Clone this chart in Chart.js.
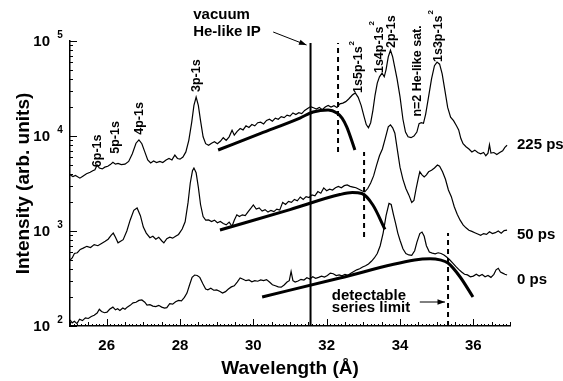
<!DOCTYPE html>
<html>
<head>
<meta charset="utf-8">
<script src="https://cdn.jsdelivr.net/npm/chart.js@4/dist/chart.umd.min.js"></script>
<style>
  html, body { margin: 0; background: #fff; }
</style>
</head>
<body>
<canvas id="spectra" width="563" height="381"></canvas>
<script>
// Spectra at three delays: wavelength (Å) and intensity (arb. units)
const wl225 = [25.00,25.08,25.15,25.27,25.36,25.45,25.55,25.62,25.68,25.74,25.80,25.88,25.95,26.03,26.10,26.17,26.24,26.31,26.40,26.50,26.60,26.70,26.80,26.88,26.96,27.04,27.12,27.20,27.28,27.36,27.45,27.53,27.62,27.70,27.78,27.86,27.93,28.00,28.08,28.16,28.24,28.32,28.38,28.44,28.50,28.56,28.63,28.70,28.78,28.86,28.94,29.02,29.10,29.18,29.26,29.34,29.42,29.48,29.56,29.64,29.72,29.80,29.88,29.96,30.04,30.12,30.20,30.28,30.36,30.44,30.52,30.60,30.68,30.76,30.84,30.92,31.00,31.08,31.16,31.24,31.32,31.40,31.48,31.56,31.64,31.72,31.80,31.88,31.96,32.04,32.12,32.20,32.28,32.36,32.44,32.52,32.60,32.70,32.78,32.86,32.94,33.02,33.08,33.14,33.20,33.26,33.32,33.38,33.44,33.51,33.57,33.62,33.68,33.74,33.80,33.86,33.92,34.00,34.08,34.15,34.22,34.30,34.38,34.46,34.52,34.58,34.64,34.70,34.78,34.86,34.94,35.01,35.08,35.15,35.22,35.30,35.38,35.46,35.54,35.60,35.66,35.72,35.80,35.88,35.96,36.04,36.12,36.20,36.28,36.34,36.40,36.44,36.48,36.56,36.64,36.72,36.80,36.86,36.92];
const int225 = [3900,3750,3850,3600,3800,4000,4150,4300,4400,4950,4600,4500,4700,4800,5000,5300,5050,5150,5000,5050,5400,6500,8400,9100,8300,6800,5600,5200,5450,5250,5400,5250,5600,5800,5600,6300,5800,5700,6000,6800,9000,14000,21000,25700,21000,14500,9800,8300,8000,8400,8700,8300,8800,9600,9000,9800,11500,10200,11200,12000,11600,12800,12300,13200,12800,13800,14000,13400,14600,15000,14300,15400,15000,16000,15600,16600,16200,17500,16800,17600,17200,18600,19500,20400,19800,19200,20000,18900,20200,21000,20200,20800,20000,21800,22200,23000,24500,27000,28400,25500,21000,16000,13200,12200,13800,18500,27000,36000,42000,46000,42000,50000,68000,80000,68000,52000,40000,26000,15000,11000,9800,9600,10000,11000,13500,13800,13600,17000,26000,40000,55000,60000,57000,45000,31000,20000,15800,14500,12800,11600,9400,8300,7700,7300,6800,7100,6700,6500,6700,6200,6600,8100,6600,6700,6400,6700,7000,7600,8000];

const wl50 = [25.00,25.06,25.12,25.20,25.28,25.36,25.46,25.56,25.66,25.76,25.86,25.96,26.04,26.12,26.18,26.24,26.31,26.38,26.45,26.55,26.64,26.74,26.83,26.92,27.00,27.08,27.18,27.26,27.34,27.42,27.50,27.56,27.64,27.72,27.80,27.88,27.96,28.06,28.14,28.22,28.28,28.34,28.38,28.44,28.50,28.56,28.63,28.70,28.78,28.86,28.94,29.02,29.10,29.18,29.26,29.34,29.42,29.48,29.55,29.62,29.70,29.78,29.86,29.94,30.00,30.08,30.16,30.24,30.32,30.40,30.48,30.56,30.64,30.72,30.80,30.88,30.96,31.04,31.12,31.20,31.28,31.36,31.44,31.52,31.60,31.68,31.76,31.84,31.92,32.00,32.08,32.16,32.24,32.32,32.40,32.48,32.56,32.64,32.72,32.80,32.88,32.96,33.04,33.12,33.20,33.28,33.36,33.44,33.52,33.60,33.68,33.74,33.80,33.86,33.92,34.00,34.08,34.16,34.24,34.32,34.38,34.44,34.50,34.54,34.60,34.66,34.72,34.78,34.86,34.94,35.02,35.08,35.16,35.24,35.32,35.40,35.48,35.56,35.64,35.72,35.80,35.88,35.96,36.04,36.12,36.20,36.28,36.36,36.44,36.52,36.60,36.68,36.76,36.84,36.92];
const int50 = [495,520,580,590,640,660,690,670,720,700,740,780,820,900,950,860,750,780,810,1000,1300,1650,1750,1450,1100,950,850,880,820,860,790,750,830,860,840,880,920,1050,1250,2000,3200,4300,4600,4100,2900,1900,1420,1300,1310,1260,1300,1220,1260,1200,1160,1240,1120,1300,1480,1420,1480,1450,1600,1750,1880,1700,1750,1620,1680,1580,1650,1600,1700,1660,2000,1900,2050,2000,2150,2080,2280,2150,2300,2250,2400,2350,2600,2500,2840,2650,2750,2700,2850,2950,2850,3000,3050,2950,2900,2850,2750,2650,2580,2800,3200,3800,4900,6200,7300,9500,12500,13100,12200,10700,7500,4700,3500,2800,2400,2000,2100,2800,3600,4200,3900,3700,3900,4200,4350,4600,4950,4800,4200,3500,2700,2300,1800,1500,1300,1160,1080,1020,990,960,930,900,940,920,980,940,960,1000,950,1010,1020];

const wl0 = [25.00,25.06,25.12,25.19,25.26,25.34,25.42,25.50,25.58,25.66,25.74,25.80,25.86,25.94,26.01,26.08,26.17,26.24,26.30,26.36,26.44,26.50,26.56,26.64,26.72,26.80,26.88,26.96,27.04,27.10,27.18,27.26,27.34,27.42,27.50,27.58,27.64,27.72,27.80,27.88,27.96,28.04,28.12,28.19,28.26,28.33,28.40,28.47,28.54,28.62,28.70,28.76,28.84,28.92,29.00,29.08,29.16,29.24,29.32,29.40,29.48,29.56,29.64,29.72,29.80,29.88,29.96,30.04,30.12,30.20,30.28,30.36,30.44,30.52,30.60,30.68,30.76,30.84,30.92,30.98,31.03,31.08,31.14,31.22,31.30,31.38,31.46,31.54,31.62,31.70,31.78,31.86,31.94,32.02,32.10,32.18,32.26,32.34,32.42,32.50,32.58,32.66,32.74,32.82,32.90,32.98,33.06,33.14,33.22,33.30,33.38,33.46,33.54,33.62,33.70,33.76,33.82,33.88,33.94,34.00,34.08,34.16,34.24,34.32,34.40,34.46,34.54,34.60,34.66,34.72,34.80,34.88,34.96,35.04,35.12,35.20,35.28,35.36,35.44,35.52,35.60,35.68,35.76,35.84,35.92,36.00,36.08,36.16,36.24,36.32,36.40,36.48,36.56,36.62,36.68,36.74,36.80,36.86,36.92];
const int0 = [116,108,112,106,118,114,122,120,126,130,137,150,142,138,140,150,158,148,152,146,155,150,158,165,175,178,186,188,178,166,168,162,160,165,158,154,156,172,170,180,186,184,200,222,270,325,344,340,325,280,245,240,250,238,240,232,222,230,245,258,265,290,320,310,300,305,292,300,296,305,300,308,290,272,265,258,256,270,290,300,375,300,290,298,310,305,322,312,330,318,325,335,328,340,360,355,340,345,338,350,342,360,375,390,400,418,430,450,480,520,580,700,950,1450,1950,1900,1500,1200,950,800,650,580,560,555,620,760,940,975,880,700,600,585,575,590,580,560,530,495,460,425,395,370,350,345,330,335,350,335,348,330,340,325,350,390,405,370,360,350,344];

// Rydberg-series fits, drawn thick
const fitWl225 = [29.04, 30.20, 31.27, 31.63, 32.04, 32.28, 32.42, 32.55, 32.77];
const fitInt225 = [7125, 10660, 15460, 17900, 18800, 17460, 15460, 12400, 7125];
const fitWl50 = [29.09, 31.00, 32.36, 32.70, 32.96, 33.26, 33.59];
const fitInt50 = [1023, 1680, 2420, 2540, 2480, 1878, 1040];
const fitWl0 = [30.24, 32.36, 34.40, 34.82, 35.09, 35.31, 35.64, 35.99];
const fitInt0 = [202, 320, 495, 510, 497, 460, 328, 202];

// vacuum He-like ionisation potential and detectable series limits
const ipWl = 31.56;
const ipRange = [100, 95000];
const limitWl = [32.31, 33.02, 35.31];
const limitLow = [6800, 865, 100];
const limitHigh = [95000, 6800, 950];

// axes
const xTicks = [26, 28, 30, 32, 34, 36];
const yTickExps = [2, 3, 4, 5];

// line identifications
const peakNames = ['6p-1s', '5p-1s', '4p-1s', '3p-1s', '1s5p-1s', '1s4p-1s', '2p-1s', 'n=2 He-like sat.', '1s3p-1s'];
const peakSup = ['', '', '', '', '2', '2', '', '', '2'];
const peakWl = [25.74, 26.23, 26.91, 28.46, 32.87, 33.43, 33.78, 34.49, 35.04];
const peakBase = [4700, 6500, 10300, 29000, 28400, 46000, 84300, 16000, 60100];

const delayNames = ['225 ps', '50 ps', '0 ps'];
const delayLevel = [8040, 907, 305];

const FONT = '"Liberation Sans", Arial, Helvetica, sans-serif';
Chart.defaults.font.family = FONT;
Chart.defaults.color = '#000';

const pts = (xs, ys) => xs.map((x, i) => ({ x: x, y: ys[i] }));

const spectrum = (xs, ys) => ({
  data: pts(xs, ys), borderColor: '#000', borderWidth: 1.2, pointRadius: 0, tension: 0
});
const fit = (xs, ys) => ({
  data: pts(xs, ys), borderColor: '#000', borderWidth: 3, pointRadius: 0,
  cubicInterpolationMode: 'monotone'
});

const datasets = [
  spectrum(wl225, int225),
  spectrum(wl50, int50),
  spectrum(wl0, int0),
  fit(fitWl225, fitInt225),
  fit(fitWl50, fitInt50),
  fit(fitWl0, fitInt0),
  { data: pts([ipWl, ipWl], ipRange), borderColor: '#000', borderWidth: 2, pointRadius: 0 }
];
limitWl.forEach((w, i) => {
  datasets.push({
    data: pts([w, w], [limitLow[i], limitHigh[i]]),
    borderColor: '#000', borderWidth: 2, borderDash: [5, 4], pointRadius: 0
  });
});

function arrow(ctx, x1, y1, x2, y2) {
  const a = Math.atan2(y2 - y1, x2 - x1);
  ctx.beginPath();
  ctx.moveTo(x1, y1);
  ctx.lineTo(x2, y2);
  ctx.stroke();
  ctx.beginPath();
  ctx.moveTo(x2, y2);
  ctx.lineTo(x2 - 8 * Math.cos(a - 0.35), y2 - 8 * Math.sin(a - 0.35));
  ctx.lineTo(x2 - 8 * Math.cos(a + 0.35), y2 - 8 * Math.sin(a + 0.35));
  ctx.closePath();
  ctx.fill();
}

// inward ticks and the 10^n labels
const axisTicks = {
  id: 'axisTicks',
  afterDraw(chart) {
    const { ctx, chartArea: a, scales: { x, y } } = chart;
    ctx.save();
    ctx.strokeStyle = '#000';
    ctx.lineWidth = 1;
    ctx.beginPath();
    for (let i = 0; i <= 120; i++) {
      const px = Math.round(x.getPixelForValue(25 + i / 10)) + 0.5;
      const len = i % 20 === 10 ? 7 : (i % 5 === 0 ? 4 : 2);
      ctx.moveTo(px, a.bottom);
      ctx.lineTo(px, a.bottom - len);
    }
    for (let e = 2; e <= 4; e++) {
      for (let m = 1; m <= 9; m++) {
        const py = Math.round(y.getPixelForValue(m * Math.pow(10, e))) + 0.5;
        ctx.moveTo(a.left, py);
        ctx.lineTo(a.left + (m === 1 ? 7 : 3), py);
      }
    }
    const top = Math.round(y.getPixelForValue(1e5)) + 0.5;
    ctx.moveTo(a.left, top);
    ctx.lineTo(a.left + 7, top);
    ctx.stroke();

    ctx.fillStyle = '#000';
    ctx.textBaseline = 'middle';
    yTickExps.forEach(e => {
      const py = y.getPixelForValue(Math.pow(10, e));
      ctx.font = 'bold 15px ' + FONT;
      ctx.textAlign = 'right';
      ctx.fillText('10', a.left - 20, py + 1);
      ctx.font = 'bold 10px ' + FONT;
      ctx.textAlign = 'center';
      ctx.fillText(String(e), a.left - 10, py - 6);
    });
    ctx.restore();
  }
};

// line identifications, delay labels and arrows
const labels = {
  id: 'labels',
  afterDraw(chart) {
    const { ctx, chartArea: a, scales: { x, y } } = chart;
    ctx.save();
    ctx.fillStyle = '#000';
    ctx.strokeStyle = '#000';
    ctx.lineWidth = 1;

    peakNames.forEach((name, i) => {
      ctx.save();
      ctx.translate(x.getPixelForValue(peakWl[i]), y.getPixelForValue(peakBase[i]));
      ctx.rotate(-Math.PI / 2);
      ctx.font = 'bold 12.5px ' + FONT;
      ctx.textAlign = 'left';
      ctx.textBaseline = 'middle';
      ctx.fillText(name, 0, 0);
      if (peakSup[i]) {
        const w = ctx.measureText(name).width;
        ctx.font = 'bold 8px ' + FONT;
        ctx.fillText(peakSup[i], w + 1, -7);
      }
      ctx.restore();
    });

    ctx.font = 'bold 15px ' + FONT;
    ctx.textAlign = 'left';
    ctx.textBaseline = 'middle';
    delayNames.forEach((name, i) => {
      ctx.fillText(name, a.right + 7, y.getPixelForValue(delayLevel[i]));
    });

    const ipPx = x.getPixelForValue(ipWl);
    const textX = x.getPixelForValue(28.36);
    ctx.fillText('vacuum', textX, a.top - 26);
    ctx.fillText('He-like IP', textX, a.top - 9);
    arrow(ctx, textX + 80, a.top - 9, ipPx - 4, a.top + 4);

    const limPx = x.getPixelForValue(limitWl[2]);
    const bx = x.getPixelForValue(32.14);
    ctx.fillText('detectable', bx, a.bottom - 30);
    ctx.fillText('series limit', bx, a.bottom - 18);
    arrow(ctx, bx + 88, a.bottom - 24, limPx - 3, a.bottom - 24);
    ctx.restore();
  }
};

new Chart(document.getElementById('spectra'), {
  type: 'line',
  data: { datasets: datasets },
  options: {
    responsive: false,
    animation: false,
    events: [],
    layout: { padding: { top: 41, right: 53, left: 0, bottom: 0 } },
    plugins: { legend: { display: false }, tooltip: { enabled: false } },
    scales: {
      x: {
        type: 'linear',
        min: 25,
        max: 37,
        afterFit(scale) { scale.height = 55; },
        afterBuildTicks(scale) { scale.ticks = xTicks.map(v => ({ value: v })); },
        grid: { display: false },
        border: { display: true, color: '#000', width: 1.5 },
        ticks: { font: { size: 15, weight: 'bold' }, padding: 3, maxRotation: 0, autoSkip: false },
        title: {
          display: true, text: 'Wavelength (Å)',
          font: { size: 19, weight: 'bold' }, padding: { bottom: 1 }
        }
      },
      y: {
        type: 'logarithmic',
        min: 100,
        max: 100000,
        afterFit(scale) { scale.width = 70; },
        grid: { display: false },
        border: { display: true, color: '#000', width: 1.5 },
        ticks: { display: false },
        title: {
          display: true, text: 'Intensity (arb. units)',
          font: { size: 19, weight: 'bold' }, padding: { top: 12 }
        }
      }
    }
  },
  plugins: [axisTicks, labels]
});
</script>
</body>
</html>
